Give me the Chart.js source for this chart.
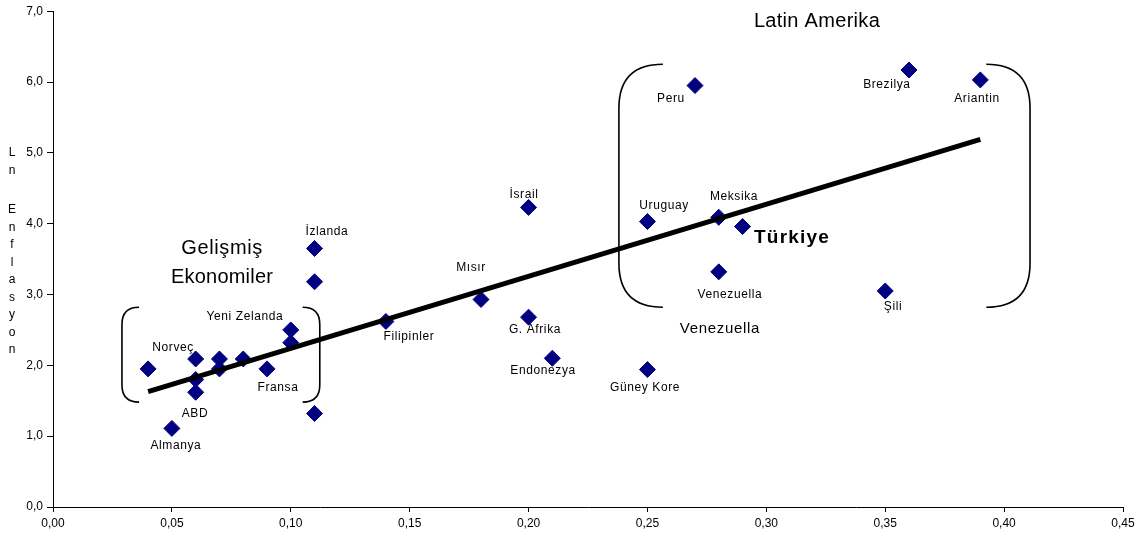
<!DOCTYPE html>
<html>
<head>
<meta charset="utf-8">
<script src="https://cdn.jsdelivr.net/npm/chart.js@4.4.1/dist/chart.umd.min.js"></script>
<style>
  html, body { margin: 0; padding: 0; background: #fff; }
  #wrap { width: 1147px; height: 542px; }
</style>
</head>
<body>
<div id="wrap"><canvas id="chart"></canvas></div>
<script>
// Point values (x: export share, y: ln inflation)
const xValues = [0.04, 0.05, 0.06, 0.06, 0.06, 0.07, 0.07, 0.08, 0.09, 0.10, 0.10, 0.11, 0.11, 0.11,
                 0.14, 0.18, 0.20, 0.20, 0.21, 0.25, 0.25, 0.27, 0.28, 0.29, 0.28, 0.35, 0.36, 0.39];
const yValues = [1.95, 1.11, 1.62, 1.80, 2.09, 2.09, 1.95, 2.09, 1.95, 2.50, 2.32, 3.65, 3.18, 1.32,
                 2.62, 2.93, 4.23, 2.68, 2.10, 1.94, 4.03, 5.95, 4.09, 3.96, 3.32, 3.05, 6.17, 6.03];

// Trend line end points
const trendX = [0.04, 0.39];
const trendY = [1.63, 5.19];

// Tick labels
const xTicks = [0, 0.05, 0.10, 0.15, 0.20, 0.25, 0.30, 0.35, 0.40, 0.45];
const yTicks = [0, 1, 2, 3, 4, 5, 6, 7];

const yTitle = 'Ln Enflasyon';

// Text annotations, placed in data units
const notes = [
  { t: 'Norveç', x: 0.0505, y: 2.25 },
  { t: 'Yeni Zelanda', x: 0.0807, y: 2.68 },
  { t: 'Fransa', x: 0.0946, y: 1.69 },
  { t: 'ABD', x: 0.0597, y: 1.32 },
  { t: 'Almanya', x: 0.0517, y: 0.87 },
  { t: 'İzlanda', x: 0.1152, y: 3.89 },
  { t: 'Gelişmiş', x: 0.0711, y: 3.65, size: 20, sp: 0.6 },
  { t: 'Ekonomiler', x: 0.0711, y: 3.24, size: 20, sp: 0.2 },
  { t: 'Filipinler', x: 0.1497, y: 2.41 },
  { t: 'Mısır', x: 0.1758, y: 3.38 },
  { t: 'İsrail', x: 0.1981, y: 4.41 },
  { t: 'G. Afrika', x: 0.2027, y: 2.51 },
  { t: 'Endonezya', x: 0.2061, y: 1.92 },
  { t: 'Güney Kore', x: 0.249, y: 1.69 },
  { t: 'Uruguay', x: 0.257, y: 4.25 },
  { t: 'Meksika', x: 0.2864, y: 4.38 },
  { t: 'Türkiye', x: 0.3108, y: 3.80, size: 19, bold: true, sp: 1.2 },
  { t: 'Venezuella', x: 0.2847, y: 3.00 },
  { t: 'Venezuella', x: 0.2805, y: 2.52, size: 15, sp: 0.7 },
  { t: 'Şili', x: 0.3533, y: 2.83 },
  { t: 'Peru', x: 0.2599, y: 5.76 },
  { t: 'Brezilya', x: 0.3507, y: 5.96 },
  { t: 'Ariantin', x: 0.3886, y: 5.76 },
  { t: 'Latin Amerika', x: 0.3213, y: 6.85, size: 20, sp: 0.3 }
];

// Brackets around the groups: outer x, inner x, top, bottom (data units)
const brackets = [
  { x1: 0.029, x2: 0.0362, top: 2.82, bottom: 1.48 },
  { x1: 0.1122, x2: 0.105, top: 2.82, bottom: 1.48 },
  { x1: 0.2380, x2: 0.2565, top: 6.25, bottom: 2.82 },
  { x1: 0.4109, x2: 0.3925, top: 6.25, bottom: 2.82 }
];

const FONT = '"Liberation Sans", Arial, sans-serif';

const annotate = {
  id: 'annotate',
  afterDatasetsDraw(chart) {
    const ctx = chart.ctx;
    const xs = chart.scales.x, ys = chart.scales.y;
    ctx.save();
    // brackets
    ctx.strokeStyle = '#000';
    ctx.lineWidth = 1.6;
    brackets.forEach(b => {
      const ox = xs.getPixelForValue(b.x1), ix = xs.getPixelForValue(b.x2);
      const top = ys.getPixelForValue(b.top), bot = ys.getPixelForValue(b.bottom);
      const r = Math.min(Math.abs(ix - ox) * 1.0, (bot - top) / 4);
      ctx.beginPath();
      ctx.moveTo(ix, top);
      ctx.quadraticCurveTo(ox, top, ox, top + r);
      ctx.lineTo(ox, bot - r);
      ctx.quadraticCurveTo(ox, bot, ix, bot);
      ctx.stroke();
    });
    // texts
    ctx.fillStyle = '#000';
    ctx.textAlign = 'center';
    ctx.textBaseline = 'middle';
    notes.forEach(n => {
      ctx.font = (n.bold ? 'bold ' : '') + (n.size || 12) + 'px ' + FONT;
      ctx.letterSpacing = (n.sp !== undefined ? n.sp : 0.6) + 'px';
      ctx.fillText(n.t, xs.getPixelForValue(n.x), ys.getPixelForValue(n.y));
    });
    ctx.restore();
  },
  afterDraw(chart) {
    // vertical stacked axis title
    const ctx = chart.ctx;
    ctx.save();
    ctx.font = '12px ' + FONT;
    ctx.fillStyle = '#000';
    ctx.textAlign = 'center';
    ctx.textBaseline = 'middle';
    let y = 153;
    for (const ch of yTitle) {
      if (ch !== ' ') ctx.fillText(ch, 12, y);
      y += ch === ' ' ? 22 : 17.5;
    }
    ctx.restore();
  }
};

const ctx = document.getElementById('chart').getContext('2d');
new Chart(ctx, {
  type: 'scatter',
  data: {
    datasets: [
      {
        label: 'Ülkeler',
        data: xValues.map((x, i) => ({ x: x, y: yValues[i] })),
        backgroundColor: '#000080',
        borderColor: '#000080',
        pointStyle: 'rectRot',
        pointRadius: 8,
        pointHoverRadius: 8,
        order: 1
      },
      {
        type: 'line',
        label: 'Trend',
        data: trendX.map((x, i) => ({ x: x, y: trendY[i] })),
        borderColor: '#000',
        borderWidth: 5,
        pointRadius: 0,
        fill: false,
        order: 0 // lower order is drawn last, so the line sits on top of the markers
      }
    ]
  },
  options: {
    responsive: true,
    maintainAspectRatio: false,
    animation: false,
    layout: { padding: { top: 10, right: 24, left: 0, bottom: 0 } },
    plugins: {
      legend: { display: false },
      tooltip: { enabled: false }
    },
    scales: {
      x: {
        type: 'linear',
        min: 0,
        max: 0.45,
        afterBuildTicks: s => { s.ticks = xTicks.map(v => ({ value: v })); },
        afterFit: s => { s.height = 35; },
        border: { color: '#000', width: 1 },
        grid: { drawOnChartArea: false, color: '#000', tickLength: 5 },
        ticks: {
          color: '#000',
          font: { family: FONT, size: 12 },
          padding: 4,
          maxRotation: 0,
          callback: v => v.toFixed(2).replace('.', ',')
        }
      },
      y: {
        type: 'linear',
        min: 0,
        max: 7,
        afterBuildTicks: s => { s.ticks = yTicks.map(v => ({ value: v })); },
        afterFit: s => { s.width = 53; },
        border: { color: '#000', width: 1 },
        grid: { drawOnChartArea: false, color: '#000', tickLength: 6 },
        ticks: {
          color: '#000',
          font: { family: FONT, size: 12 },
          padding: 4,
          callback: v => v.toFixed(1).replace('.', ',')
        }
      }
    }
  },
  plugins: [annotate]
});
</script>
</body>
</html>
